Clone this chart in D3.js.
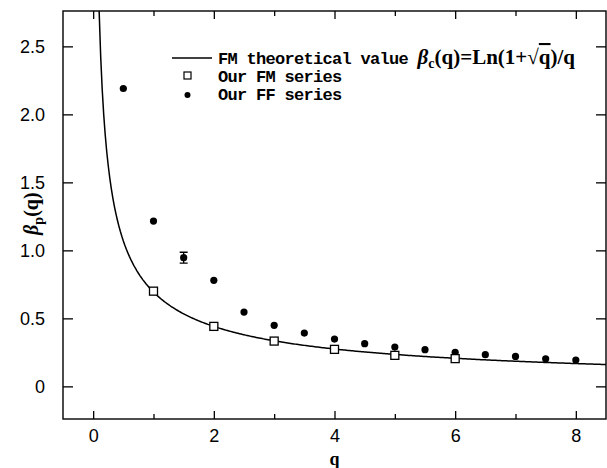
<!DOCTYPE html>
<html>
<head>
<meta charset="utf-8">
<script src="https://cdn.jsdelivr.net/npm/d3@7"></script>
<style>
  body { margin: 0; background: #fff; }
  text { fill: #000; }
</style>
</head>
<body>
<svg id="chart" width="607" height="468"></svg>
<script>
// Data
const ffQ = [0.5, 1, 1.5, 2, 2.5, 3, 3.5, 4, 4.5, 5, 5.5, 6, 6.5, 7, 7.5, 8];
const ffBeta = [2.19, 1.215, 0.946, 0.78, 0.546, 0.449, 0.392, 0.348, 0.314, 0.289, 0.27, 0.25, 0.233, 0.22, 0.203, 0.193];
const ffErr = [0, 0, 0.04, 0, 0, 0, 0, 0, 0, 0, 0, 0, 0, 0, 0, 0];
const fmQ = [1, 2, 3, 4, 5, 6];
const fmBeta = [0.70, 0.441, 0.333, 0.272, 0.228, 0.204];
const xTicks = [0, 2, 4, 6, 8];
const xMinorTicks = [1, 3, 5, 7];
const yTicks = [0, 0.5, 1.0, 1.5, 2.0, 2.5];
const yTickLabels = ["0", "0.5", "1.0", "1.5", "2.0", "2.5"];
// theoretical curve beta_c(q) = ln(1 + sqrt(q)) / q, sampled on a q grid
const curveQ = d3.range(0.05, 8.55, 0.025);

const svg = d3.select("#chart");
const margin = { top: 11, right: 1, bottom: 49, left: 63 },
      width = +svg.attr("width") - margin.left - margin.right,
      height = +svg.attr("height") - margin.top - margin.bottom;

const x = d3.scaleLinear().domain([-0.5, 8.5]).range([margin.left, margin.left + width]);
const y = d3.scaleLinear().domain([-0.24, 2.76]).range([margin.top + height, margin.top]);

svg.append("defs").append("clipPath").attr("id", "clip")
  .append("rect")
  .attr("x", margin.left).attr("y", margin.top)
  .attr("width", width).attr("height", height);

// Frame
svg.append("rect")
  .attr("x", margin.left).attr("y", margin.top)
  .attr("width", width).attr("height", height)
  .attr("fill", "none").attr("stroke", "#000").attr("stroke-width", 1.4);

// Axes with inward ticks on all sides
const tickFont = "'Liberation Sans', Arial, sans-serif";
svg.append("g")
  .attr("transform", `translate(0,${margin.top + height})`)
  .call(d3.axisBottom(x).tickValues(xTicks).tickSize(-8).tickPadding(10).tickFormat(d3.format("d")))
  .call(g => g.select(".domain").remove());
svg.append("g")
  .attr("transform", `translate(0,${margin.top + height})`)
  .call(d3.axisBottom(x).tickValues(xMinorTicks).tickSize(-5).tickFormat(""))
  .call(g => g.select(".domain").remove());
svg.append("g")
  .attr("transform", `translate(0,${margin.top})`)
  .call(d3.axisTop(x).tickValues(xTicks).tickSize(-8).tickFormat(""))
  .call(g => g.select(".domain").remove());
svg.append("g")
  .attr("transform", `translate(0,${margin.top})`)
  .call(d3.axisTop(x).tickValues(xMinorTicks).tickSize(-5).tickFormat(""))
  .call(g => g.select(".domain").remove());
svg.append("g")
  .attr("transform", `translate(${margin.left},0)`)
  .call(d3.axisLeft(y).tickValues(yTicks).tickSize(-10).tickPadding(18)
    .tickFormat((d, i) => yTickLabels[i]))
  .call(g => g.select(".domain").remove());
svg.append("g")
  .attr("transform", `translate(${margin.left + width},0)`)
  .call(d3.axisRight(y).tickValues(yTicks).tickSize(-10).tickFormat(""))
  .call(g => g.select(".domain").remove());

svg.selectAll(".tick line").attr("stroke", "#000").attr("stroke-width", 1.3);
svg.selectAll(".tick text")
  .style("font-family", tickFont).style("font-size", "18px").attr("fill", "#000");

// Axis titles
svg.append("text")
  .attr("x", x(4)).attr("y", 465)
  .attr("text-anchor", "middle")
  .style("font-family", "'Liberation Serif', serif").style("font-size", "18px").style("font-weight", "bold")
  .text("q");

const ylab = svg.append("text")
  .attr("transform", `translate(38,${y(1.27)}) rotate(-90)`)
  .attr("text-anchor", "middle")
  .style("font-family", "'Liberation Serif', serif").style("font-size", "20px").style("font-weight", "bold");
ylab.append("tspan").style("font-style", "italic").text("β");
ylab.append("tspan").attr("dy", 5).style("font-size", "14px").text("p");
ylab.append("tspan").attr("dy", -5).text("(q)");

// Theoretical curve
const plot = svg.append("g").attr("clip-path", "url(#clip)");
const line = d3.line().x(d => x(d)).y(d => y(Math.log(1 + Math.sqrt(d)) / d));
plot.append("path")
  .datum(curveQ)
  .attr("d", line)
  .attr("fill", "none").attr("stroke", "#000").attr("stroke-width", 1.5);

// FF series error bars
const ff = ffQ.map((q, i) => ({ q: q, b: ffBeta[i], e: ffErr[i] }));
const errs = ff.filter(d => d.e > 0);
plot.selectAll(".err").data(errs).enter().append("path")
  .attr("class", "err")
  .attr("d", d => `M${x(d.q) - 4},${y(d.b + d.e)}h8M${x(d.q)},${y(d.b + d.e)}V${y(d.b - d.e)}M${x(d.q) - 4},${y(d.b - d.e)}h8`)
  .attr("fill", "none").attr("stroke", "#000").attr("stroke-width", 1.3);

// FF series points
plot.selectAll(".ff").data(ff).enter().append("circle")
  .attr("class", "ff")
  .attr("cx", d => x(d.q)).attr("cy", d => y(d.b))
  .attr("r", 3.6).attr("fill", "#000");

// FM series squares
plot.selectAll(".fm").data(fmQ.map((q, i) => ({ q: q, b: fmBeta[i] }))).enter().append("rect")
  .attr("class", "fm")
  .attr("x", d => x(d.q) - 4).attr("y", d => y(d.b) - 4)
  .attr("width", 8).attr("height", 8)
  .attr("fill", "#fff").attr("stroke", "#000").attr("stroke-width", 1.3);

// Legend
const legFont = "'Liberation Mono', 'DejaVu Sans Mono', monospace";
const lg = svg.append("g");
lg.append("line").attr("x1", 172).attr("x2", 212).attr("y1", 58).attr("y2", 58)
  .attr("stroke", "#000").attr("stroke-width", 1.5);
const t1 = lg.append("text").attr("x", 218).attr("y", 64)
  .style("font-size", "17px").style("font-weight", "bold");
t1.append("tspan").style("font-family", legFont).style("letter-spacing", "-0.7px").text("FM theoretical value ");
const f = t1.append("tspan").style("font-family", "'Liberation Serif', serif").style("font-size", "21px");
f.append("tspan").style("font-style", "italic").text("β");
f.append("tspan").attr("dy", 4).style("font-size", "14px").text("c");
f.append("tspan").attr("dy", -4).text("(q)=Ln(1+√");
f.append("tspan").style("text-decoration", "overline").text("q");
f.append("tspan").text(")/q");

lg.append("rect").attr("x", 184).attr("y", 72).attr("width", 7).attr("height", 7)
  .attr("fill", "#fff").attr("stroke", "#000").attr("stroke-width", 1.2);
lg.append("text").attr("x", 218).attr("y", 82)
  .style("font-family", legFont).style("font-size", "17px").style("font-weight", "bold")
  .style("letter-spacing", "-0.7px")
  .text("Our FM series");
lg.append("circle").attr("cx", 187.5).attr("cy", 95).attr("r", 3).attr("fill", "#000");
lg.append("text").attr("x", 218).attr("y", 100)
  .style("font-family", legFont).style("font-size", "17px").style("font-weight", "bold")
  .style("letter-spacing", "-0.7px")
  .text("Our FF series");
</script>
</body>
</html>
